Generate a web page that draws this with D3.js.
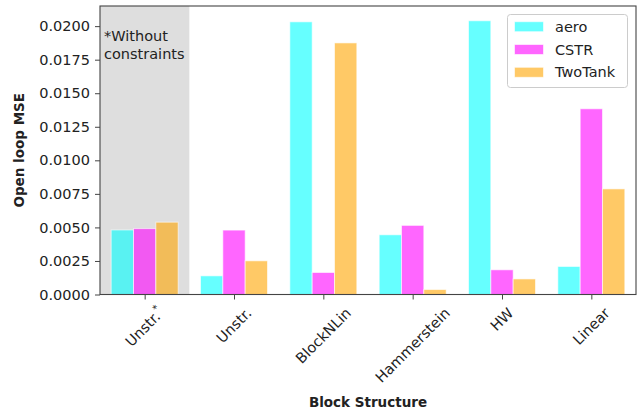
<!DOCTYPE html>
<html>
<head>
<meta charset="utf-8">
<script src="https://cdn.jsdelivr.net/npm/d3@7"></script>
<style>
    body { margin: 0; background: white; }
    text { font-family: "DejaVu Sans", sans-serif; fill: #222; }
</style>
</head>
<body>
<div id="chart"></div>
<script>
'use strict';

// Categories on the x axis (first one is the unconstrained run)
const categories = ['Unstr.*', 'Unstr.', 'BlockNLin', 'Hammerstein', 'HW', 'Linear'];

// Series names and their colours
const seriesNames = ['aero', 'CSTR', 'TwoTank'];
const seriesColors = ['#00ffff', '#ff00ff', '#ffa500'];

// Open loop MSE per series, one value per category
const aeroValues    = [0.00481, 0.00139, 0.02032, 0.00445, 0.02040, 0.00209];
const cstrValues    = [0.00491, 0.00480, 0.00164, 0.00515, 0.00184, 0.01384];
const twoTankValues = [0.00539, 0.00251, 0.01875, 0.00037, 0.00116, 0.00787];

const yTicks = d3.range(0, 0.0201, 0.0025);

const WIDTH = 642;
const HEIGHT = 414;
const margin = {top: 6, right: 6, bottom: 119.5, left: 100};
const plotW = WIDTH - margin.left - margin.right;
const plotH = HEIGHT - margin.top - margin.bottom;
const BAR_WIDTH = 0.25;

const allSeries = [aeroValues, cstrValues, twoTankValues];

const svg = d3.select('#chart').append('svg')
    .attr('width', WIDTH)
    .attr('height', HEIGHT);

const g = svg.append('g')
    .attr('transform', 'translate(' + margin.left + ',' + margin.top + ')');

// x is a linear scale over category index so the bars can sit at +-0.25
const x = d3.scaleLinear().domain([-0.5, categories.length - 0.5]).range([0, plotW]);
const y = d3.scaleLinear().domain([0, 0.0215]).range([plotH, 0]);

// grey band behind the unconstrained group
g.append('rect')
    .attr('x', x(-0.5))
    .attr('y', 0)
    .attr('width', x(0.5) - x(-0.5))
    .attr('height', plotH)
    .style('fill', '#dedede');

// bars
allSeries.forEach(function(values, s) {
    g.append('g')
        .selectAll('rect')
        .data(values)
        .enter()
        .append('rect')
        .attr('x', (d, i) => x(i + (s - 1) * BAR_WIDTH - BAR_WIDTH / 2))
        .attr('y', d => y(d))
        .attr('width', x(BAR_WIDTH) - x(0))
        .attr('height', d => y(0) - y(d))
        .style('fill', seriesColors[s])
        .style('fill-opacity', 0.6)
        .style('stroke', 'white')
        .style('stroke-opacity', 0.6)
        .style('stroke-width', 1);
});

// y axis
const yAxis = g.append('g')
    .call(d3.axisLeft(y).tickValues(yTicks).tickFormat(d3.format('.4f')).tickSize(5).tickPadding(5));
yAxis.select('.domain').remove();
yAxis.selectAll('line').style('stroke', '#444');
yAxis.selectAll('text').style('font-size', '14.5px').style('fill', '#222');

// x axis, labels rotated 45 degrees and centred under the tick like matplotlib does
const xAxis = g.append('g')
    .attr('transform', 'translate(0,' + plotH + ')')
    .call(d3.axisBottom(x).tickValues(d3.range(categories.length)).tickFormat('').tickSize(5));
xAxis.select('.domain').remove();
xAxis.selectAll('line').style('stroke', '#444');

const labelTop = plotH + 10;
const lineH = 14.5 * 1.16;
categories.forEach(function(c, i) {
    var t = g.append('text')
        .style('font-size', '14.5px')
        .attr('text-anchor', 'middle')
        .attr('dominant-baseline', 'central');
    if (c.endsWith('*')) {
        t.append('tspan').text(c.slice(0, -1));
        t.append('tspan').attr('dy', -6).style('font-size', '10px').text('*');
    } else {
        t.text(c);
    }
    var w = t.node().getComputedTextLength();
    var half = (w + lineH) / (2 * Math.SQRT2);
    var cx = x(i);
    var cy = labelTop + half;
    t.attr('transform', 'translate(' + cx + ',' + cy + ') rotate(-45)');
});

// frame around the plot
g.append('rect')
    .attr('width', plotW)
    .attr('height', plotH)
    .style('fill', 'none')
    .style('stroke', '#444')
    .style('stroke-width', 1.1);

// note in the grey band
const note = g.append('text')
    .attr('x', 4)
    .attr('y', 35)
    .style('font-size', '14.5px');
note.append('tspan').attr('x', 4).text('*Without');
note.append('tspan').attr('x', 4).attr('dy', 18).text('constraints');

// axis titles
svg.append('text')
    .attr('x', margin.left + plotW / 2)
    .attr('y', 406.5)
    .attr('text-anchor', 'middle')
    .style('font-size', '13.5px')
    .style('font-weight', 'bold')
    .text('Block Structure');

svg.append('text')
    .attr('transform', 'translate(23.5,' + (margin.top + plotH / 2) + ') rotate(-90)')
    .attr('text-anchor', 'middle')
    .style('font-size', '13.5px')
    .style('font-weight', 'bold')
    .text('Open loop MSE');

// legend
const legend = svg.append('g').attr('transform', 'translate(507.5,14.5)');
legend.append('rect')
    .attr('width', 120)
    .attr('height', 73)
    .attr('rx', 3)
    .style('fill', 'white')
    .style('fill-opacity', 0.8)
    .style('stroke', '#cccccc');

const items = legend.selectAll('g.item')
    .data(seriesNames)
    .enter()
    .append('g')
    .attr('transform', (d, i) => 'translate(0,' + (12.2 + i * 22.8) + ')');
items.append('rect')
    .attr('x', 7)
    .attr('y', -5)
    .attr('width', 29)
    .attr('height', 10)
    .style('fill', (d, i) => seriesColors[i])
    .style('fill-opacity', 0.6)
    .style('stroke', 'white')
    .style('stroke-opacity', 0.6);
items.append('text')
    .attr('x', 47.5)
    .attr('dominant-baseline', 'central')
    .style('font-size', '14.5px')
    .text(d => d);
</script>
</body>
</html>
